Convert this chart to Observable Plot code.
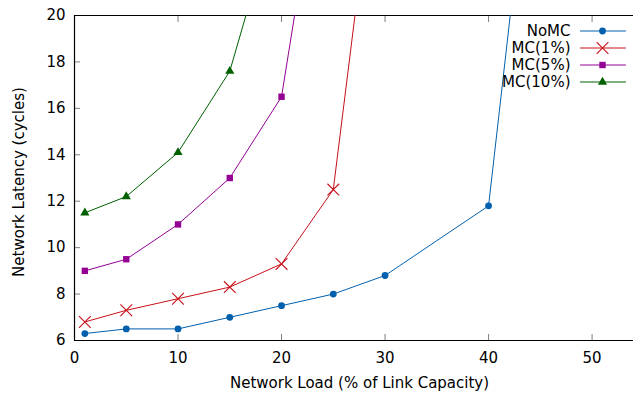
<!DOCTYPE html>
<html><head><meta charset="utf-8">
<script src="https://cdn.jsdelivr.net/npm/d3@7"></script>
<script src="https://cdn.jsdelivr.net/npm/@observablehq/plot@0.6"></script>
<style>html,body{margin:0;padding:0;background:#fff} svg{display:block}</style>
</head><body><div id="chart"></div>
<script>
// ---- data ----
const seriesNames = ["NoMC", "MC(1%)", "MC(5%)", "MC(10%)"];
const noMCLoad = [1, 5, 10, 15, 20, 25, 30, 40, 45];
const noMCLatency = [6.3, 6.5, 6.5, 7.0, 7.5, 8.0, 8.8, 11.8, 31.4];
const mc1Load = [1, 5, 10, 15, 20, 25, 30];
const mc1Latency = [6.8, 7.3, 7.8, 8.3, 9.3, 12.5, 30.4];
const mc5Load = [1, 5, 10, 15, 20, 25];
const mc5Latency = [9.0, 9.5, 11.0, 13.0, 16.5, 30.4];
const mc10Load = [1, 5, 10, 15, 20];
const mc10Latency = [11.5, 12.2, 14.1, 17.6, 25.3];
const xTicks = [0, 10, 20, 30, 40, 50];
const yTicks = [6, 8, 10, 12, 14, 16, 18, 20];

// ---- styles ----
const styles = {
  "NoMC":    {color: "#0060ad", symbol: "circle",   r: 3.4, filled: true},
  "MC(1%)":  {color: "#c8101a", symbol: "times",    r: 5.4, filled: false},
  "MC(5%)":  {color: "#940094", symbol: "square",   r: 3.6, filled: true},
  "MC(10%)": {color: "#006000", symbol: "triangle", r: 3.4, filled: true}
};

const loads = [noMCLoad, mc1Load, mc5Load, mc10Load];
const lats = [noMCLatency, mc1Latency, mc5Latency, mc10Latency];
const rows = seriesNames.map((s, i) => loads[i].map((x, j) => ({series: s, load: x, latency: lats[i][j]})));

const font = "DejaVu Sans";
const fs = 15;
const marks = [];

// tick marks (inward, gray)
const tickStroke = "#7f7f7f";
marks.push(Plot.axisX({ticks: xTicks, tickSize: -6, tickFormat: () => "", label: null, stroke: tickStroke}));
marks.push(Plot.axisX({anchor: "top", ticks: xTicks, tickSize: -6, tickFormat: () => "", label: null, stroke: tickStroke}));
marks.push(Plot.axisY({ticks: yTicks, tickSize: -6, tickFormat: () => "", label: null, stroke: tickStroke}));
// tick labels
marks.push(Plot.axisX({ticks: xTicks, tickSize: 0, tickPadding: 12, label: null, fontSize: fs}));
marks.push(Plot.axisY({ticks: yTicks, tickSize: 0, tickPadding: 9, label: null, fontSize: fs}));
// border lines
marks.push(Plot.ruleX([0], {stroke: "#000", strokeWidth: 1.2}));
marks.push(Plot.ruleY([6, 20], {stroke: "#000", strokeWidth: 1.2}));

// series
seriesNames.forEach((s, i) => {
  const st = styles[s];
  marks.push(Plot.line(rows[i], {x: "load", y: "latency", stroke: st.color, strokeWidth: 1, clip: true}));
  marks.push(Plot.dot(rows[i], {x: "load", y: "latency", symbol: st.symbol, r: st.r,
    fill: st.filled ? st.color : "none", stroke: st.filled ? "none" : st.color, strokeWidth: 1.1, clip: true}));
});

// axis titles
marks.push(Plot.text(["Network Load (% of Link Capacity)"], {text: d => d, frameAnchor: "bottom", textAnchor: "middle", lineAnchor: "middle", dx: 5.5, dy: 43, fontSize: fs}));
marks.push(Plot.text(["Network Latency (cycles)"], {text: d => d, frameAnchor: "left", textAnchor: "middle", lineAnchor: "middle", rotate: -90, dx: -55, dy: 4, fontSize: fs}));

// legend
const hline = {draw(ctx, l) { ctx.moveTo(0, 0); ctx.lineTo(0, -l); }};
seriesNames.forEach((s, i) => {
  const st = styles[s];
  const dy = 15.5 + 17 * i;
  marks.push(Plot.text([s], {text: d => d, frameAnchor: "top-right", dx: -63, dy, textAnchor: "end", lineAnchor: "middle", fontSize: fs}));
  marks.push(Plot.vector([s], {frameAnchor: "top-right", dx: -53, dy, length: 45, rotate: 90, anchor: "start", shape: hline, stroke: st.color, strokeWidth: 1}));
  marks.push(Plot.dot([s], {frameAnchor: "top-right", dx: -31, dy, symbol: st.symbol, r: st.r,
    fill: st.filled ? st.color : "none", stroke: st.filled ? "none" : st.color, strokeWidth: 1.1}));
});

const chart = Plot.plot({
  width: 633,
  height: 394,
  marginLeft: 74,
  marginTop: 15,
  marginBottom: 54,
  marginRight: 0,
  style: {fontFamily: font, fontSize: fs + "px", background: "#fff", color: "#000"},
  x: {domain: [0, 54]},
  y: {domain: [6, 20]},
  marks
});
document.getElementById("chart").appendChild(chart);
</script>
</body></html>
